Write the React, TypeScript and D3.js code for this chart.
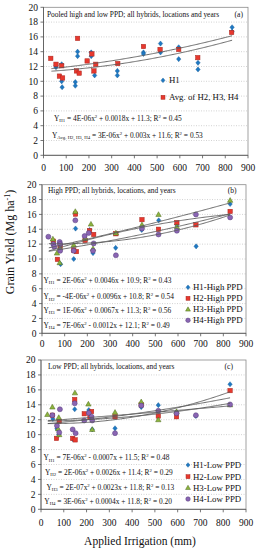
import React from 'react';
import * as d3 from 'd3';

const FONT = "'Liberation Serif','Times New Roman',Times,serif";

type Pt = [number, number];

const yTicks = [0, 2, 4, 6, 8, 10, 12, 14, 16, 18, 20];
const xTicks = [0, 100, 200, 300, 400, 500, 600, 700, 800, 900];

// Panel (a): pooled
const aH1: Pt[] = [[55, 11.9], [55, 12.1], [80, 12.3], [80, 10.0], [82, 9.2], [140, 9.9], [140, 9.4], [150, 14.0], [150, 13.4], [210, 13.9], [210, 13.4], [225, 10.8], [325, 11.4], [325, 10.8], [440, 13.9], [440, 13.7], [515, 15.1], [515, 13.9], [595, 14.6], [595, 13.0], [680, 12.5], [680, 11.6], [830, 17.3], [830, 16.7]];
const aAvg: Pt[] = [[32, 13.1], [55, 12.3], [80, 12.1], [70, 10.7], [84, 10.45], [145, 11.4], [150, 15.8], [157, 11.1], [192, 12.75], [213, 13.7], [222, 11.4], [230, 12.3], [327, 12.4], [440, 14.7], [513, 14.3], [595, 14.3], [679, 13.2], [828, 16.6]];

// Panel (b): high PPD
const bH1: Pt[] = [[52, 11.9], [78, 12.2], [82, 9.3], [140, 10.0], [148, 14.1], [210, 13.9], [225, 10.8], [325, 11.5], [440, 13.9], [515, 15.2], [595, 14.6], [680, 11.7], [830, 17.4]];
const bH2: Pt[] = [[50, 12.4], [68, 9.95], [80, 11.7], [140, 11.2], [148, 16.05], [152, 11.0], [190, 12.5], [210, 13.8], [228, 13.3], [326, 13.4], [441, 15.3], [514, 14.0], [595, 14.9], [679, 14.6], [830, 16.4]];
const bH3: Pt[] = [[48, 12.7], [66, 10.8], [78, 9.5], [80, 11.5], [140, 11.9], [147, 16.4], [191, 12.8], [216, 14.7], [225, 11.4], [326, 13.5], [441, 14.6], [514, 16.0], [595, 14.35], [830, 17.9]];
const bH4: Pt[] = [[28, 13.0], [50, 12.0], [54, 11.65], [78, 12.3], [80, 12.0], [80, 11.1], [140, 11.1], [147, 15.2], [188, 13.1], [206, 13.5], [228, 12.1], [225, 11.1], [326, 10.5], [441, 14.1], [514, 13.3], [595, 13.8], [679, 16.0], [830, 15.6]];

// Panel (c): low PPD
const cH1: Pt[] = [[52, 12.1], [70, 10.8], [78, 10.0], [140, 9.4], [148, 13.4], [210, 13.3], [225, 10.7], [325, 10.85], [440, 13.7], [515, 13.95], [595, 13.0], [680, 12.5], [830, 16.75]];
const cH2: Pt[] = [[50, 12.6], [68, 9.5], [80, 11.8], [139, 9.5], [148, 14.7], [150, 9.3], [190, 12.8], [222, 13.1], [215, 12.3], [325, 12.4], [440, 14.0], [515, 12.5], [595, 12.4], [830, 15.9]];
const cH3: Pt[] = [[28, 12.7], [50, 13.7], [78, 12.3], [75, 10.8], [80, 10.0], [149, 15.6], [208, 14.1], [225, 10.7], [325, 13.0], [440, 14.4], [515, 12.0], [595, 13.1], [830, 14.0]];
const cH4: Pt[] = [[50, 12.6], [70, 11.2], [83, 13.4], [80, 10.3], [139, 10.7], [148, 14.2], [152, 10.2], [190, 11.9], [210, 12.9], [222, 12.4], [225, 11.9], [325, 10.2], [440, 13.9], [515, 13.2], [595, 12.85], [680, 12.6], [830, 14.05]];

// Quadratic trend coefficients [a, b, c] for y = a x^2 + b x + c (printed in the chart)
const aTrends = [[4e-6, 0.0018, 11.3], [3e-6, 0.003, 11.6]];
const bTrends = [[2e-6, 0.0046, 10.9], [-4e-6, 0.0096, 10.8], [1e-6, 0.0067, 11.3], [7e-6, -0.0012, 12.1]];
const cTrends = [[7e-6, -0.0007, 11.5], [2e-6, 0.0026, 11.4], [2e-7, 0.0023, 11.8], [3e-6, 0.0004, 11.8]];

// Text
type Seg = [string, 'n' | 'sub' | 'sup'];
const aEqs: Seg[][] = [
  [['Y', 'n'], ['H1', 'sub'], [' = 4E-06x', 'n'], ['2', 'sup'], [' + 0.0018x + 11.3; R', 'n'], ['2', 'sup'], [' = 0.45', 'n']],
  [['Y', 'n'], ['Avg. H2, H3, H4', 'sub'], [' = 3E-06x', 'n'], ['2', 'sup'], [' + 0.003x + 11.6; R', 'n'], ['2', 'sup'], [' = 0.53', 'n']],
];
const bEqs: Seg[][] = [
  [['Y', 'n'], ['H1', 'sub'], [' = 2E-06x', 'n'], ['2', 'sup'], [' + 0.0046x + 10.9; R', 'n'], ['2', 'sup'], [' = 0.43', 'n']],
  [['Y', 'n'], ['H2', 'sub'], [' = -4E-06x', 'n'], ['2', 'sup'], [' + 0.0096x + 10.8; R', 'n'], ['2', 'sup'], [' = 0.54', 'n']],
  [['Y', 'n'], ['H3', 'sub'], [' = 1E-06x', 'n'], ['2', 'sup'], [' + 0.0067x + 11.3; R', 'n'], ['2', 'sup'], [' = 0.56', 'n']],
  [['Y', 'n'], ['H4', 'sub'], [' = 7E-06x', 'n'], ['2', 'sup'], [' - 0.0012x + 12.1; R', 'n'], ['2', 'sup'], [' = 0.49', 'n']],
];
const cEqs: Seg[][] = [
  [['Y', 'n'], ['H1', 'sub'], [' = 7E-06x', 'n'], ['2', 'sup'], [' - 0.0007x + 11.5; R', 'n'], ['2', 'sup'], [' = 0.48', 'n']],
  [['Y', 'n'], ['H2', 'sub'], [' = 2E-06x', 'n'], ['2', 'sup'], [' + 0.0026x + 11.4; R', 'n'], ['2', 'sup'], [' = 0.29', 'n']],
  [['Y', 'n'], ['H3', 'sub'], [' = 2E-07x', 'n'], ['2', 'sup'], [' + 0.0023x + 11.8; R', 'n'], ['2', 'sup'], [' = 0.13', 'n']],
  [['Y', 'n'], ['H4', 'sub'], [' = 3E-06x', 'n'], ['2', 'sup'], [' + 0.0004x + 11.8; R', 'n'], ['2', 'sup'], [' = 0.20', 'n']],
];
const aNames = ['H1', 'Avg. of H2, H3, H4'];
const bNames = ['H1-High PPD', 'H2-High PPD', 'H3-High PPD', 'H4-High PPD'];
const cNames = ['H1-Low PPD', 'H2-Low PPD', 'H3-Low PPD', 'H4-Low PPD'];

const STYLES: Record<string, { fill: string; stroke: string }> = {
  diamond: { fill: '#1E78C2', stroke: '#1A5E98' },
  square: { fill: '#E8382E', stroke: '#A8271F' },
  triangle: { fill: '#8DB43E', stroke: '#4F6B1E' },
  circle: { fill: '#8A65B3', stroke: '#553D7A' },
};

function Marker({ shape, x, y, s = 1 }: { shape: string; x: number; y: number; s?: number }) {
  const st = STYLES[shape];
  if (shape === 'diamond') {
    const r = 2.6 * s;
    return <path d={`M${x},${y - r}L${x + r * 0.85},${y}L${x},${y + r}L${x - r * 0.85},${y}Z`} fill={st.fill} stroke={st.stroke} strokeWidth={0.4} />;
  }
  if (shape === 'square') {
    const r = 2.2 * s;
    return <rect x={x - r} y={y - r} width={2 * r} height={2 * r} fill={st.fill} stroke={st.stroke} strokeWidth={0.5} />;
  }
  if (shape === 'triangle') {
    const r = 2.7 * s;
    return <path d={`M${x},${y - r}L${x + r},${y + r * 0.75}L${x - r},${y + r * 0.75}Z`} fill={st.fill} stroke={st.stroke} strokeWidth={0.5} />;
  }
  return <circle cx={x} cy={y} r={2.5 * s} fill={st.fill} stroke={st.stroke} strokeWidth={0.5} />;
}

function Rich({ segs, x, y, size }: { segs: Seg[]; x: number; y: number; size: number }) {
  let cur = 0;
  const parts = segs.map(([t, k], i) => {
    const target = k === 'sub' ? size * 0.25 : k === 'sup' ? -size * 0.35 : 0;
    const dy = target - cur;
    cur = target;
    return (
      <tspan key={i} dy={dy} fontSize={k === 'n' ? size : size * 0.65}>{t}</tspan>
    );
  });
  return <text x={x} y={y} fontFamily={FONT} fontSize={size} fill="#111">{parts}</text>;
}

type PanelCfg = {
  x0: number; x1: number; yTop: number; yBot: number;
  series: { shape: string; data: Pt[] }[];
  trends: number[][];
  trendRange: [number, number];
  title: string; titleX: number; titleY: number; tag: string; tagX: number;
  names: string[]; legX: number; legYs: number[]; legSize: number; legTextDx: number;
  eqs: Seg[][]; eqXs: number[]; eqYs: number[];
  tickLabelY: number;
};

function Panel({ p }: { p: PanelCfg }) {
  const x = d3.scaleLinear().domain([0, 900]).range([p.x0, p.x1]);
  const y = d3.scaleLinear().domain([0, 20]).range([p.yBot, p.yTop]);
  const line = d3.line<number>().x((d) => x(d[0])).y((d) => y(d[1])) as any;
  const xs = d3.range(p.trendRange[0], p.trendRange[1] + 0.1, 5);
  return (
    <g>
      {yTicks.filter((t) => t > 0 && t < 20).map((t) => (
        <line key={t} x1={p.x0} x2={p.x1} y1={y(t)} y2={y(t)} stroke="#b5b5b5" strokeWidth={0.6} strokeDasharray="1,1.5" />
      ))}
      <rect x={p.x0} y={p.yTop} width={p.x1 - p.x0} height={p.yBot - p.yTop} fill="none" stroke="#8a8a8a" strokeWidth={0.8} />
      <line x1={p.x0} x2={p.x0} y1={p.yTop} y2={p.yBot} stroke="#555" strokeWidth={0.8} />
      <line x1={p.x0} x2={p.x1} y1={p.yBot} y2={p.yBot} stroke="#555" strokeWidth={0.8} />
      {yTicks.map((t) => (
        <g key={t}>
          <line x1={p.x0 - 3} x2={p.x0} y1={y(t)} y2={y(t)} stroke="#555" strokeWidth={0.8} />
          <text x={p.x0 - 5.5} y={y(t) + 3.3} textAnchor="end" fontFamily={FONT} fontSize={9.5} fill="#111">{t}</text>
        </g>
      ))}
      {xTicks.map((t) => (
        <g key={t}>
          <line x1={x(t)} x2={x(t)} y1={p.yBot} y2={p.yBot + 3} stroke="#555" strokeWidth={0.8} />
          <text x={x(t)} y={p.tickLabelY} textAnchor="middle" fontFamily={FONT} fontSize={9.5} fill="#111">{t}</text>
        </g>
      ))}
      <text x={p.titleX} y={p.titleY} fontFamily={FONT} fontSize={7.4} fill="#111">{p.title}</text>
      <text x={p.tagX} y={p.titleY} textAnchor="end" fontFamily={FONT} fontSize={7.6} fill="#111">{p.tag}</text>
      {p.series.map((s, si) => (
        <g key={si}>
          {s.data.map((d, i) => <Marker key={i} shape={s.shape} x={x(d[0])} y={y(d[1])} />)}
        </g>
      ))}
      {p.trends.map((c, i) => (
        <path key={i} d={line(xs.map((v) => [v, c[0] * v * v + c[1] * v + c[2]]))} fill="none" stroke="#5a5a5a" strokeWidth={0.9} />
      ))}
      {p.names.map((n, i) => (
        <g key={n}>
          <Marker shape={p.series[i].shape} x={p.legX} y={p.legYs[i]} s={0.9} />
          <text x={p.legX + p.legTextDx} y={p.legYs[i] + p.legSize * 0.33} fontFamily={FONT} fontSize={p.legSize} fill="#111">{n}</text>
        </g>
      ))}
      {p.eqs.map((e, i) => <Rich key={i} segs={e} x={p.eqXs[i]} y={p.eqYs[i]} size={7.4} />)}
    </g>
  );
}

const panels: PanelCfg[] = [
  {
    x0: 43.5, x1: 248, yTop: 7.3, yBot: 155.3,
    series: [{ shape: 'diamond', data: aH1 }, { shape: 'square', data: aAvg }],
    trends: aTrends, trendRange: [35, 830],
    title: 'Pooled high and low PPD; all hybrids,  locations and years', titleX: 47, titleY: 16.5, tag: '(a)', tagX: 243,
    names: aNames, legX: 163, legYs: [80.3, 97.3], legSize: 8.8, legTextDx: 6,
    eqs: aEqs, eqXs: [54, 52], eqYs: [120.5, 137.5], tickLabelY: 170.5,
  },
  {
    x0: 42, x1: 246, yTop: 184.7, yBot: 333.3,
    series: [{ shape: 'diamond', data: bH1 }, { shape: 'square', data: bH2 }, { shape: 'triangle', data: bH3 }, { shape: 'circle', data: bH4 }],
    trends: bTrends, trendRange: [30, 830],
    title: 'High PPD; all hybrids,  locations, and years', titleX: 48, titleY: 193, tag: '(b)', tagX: 236.5,
    names: bNames, legX: 188, legYs: [287.3, 298.3, 309.3, 320.3], legSize: 8.8, legTextDx: 5,
    eqs: bEqs, eqXs: [43.5, 43.5, 43.5, 43.5], eqYs: [282.5, 299, 312.5, 327.5], tickLabelY: 346.5,
  },
  {
    x0: 41, x1: 246, yTop: 360, yBot: 509.3,
    series: [{ shape: 'diamond', data: cH1 }, { shape: 'square', data: cH2 }, { shape: 'triangle', data: cH3 }, { shape: 'circle', data: cH4 }],
    trends: cTrends, trendRange: [30, 830],
    title: 'Low PPD; all hybrids,  locations, and years', titleX: 48, titleY: 369, tag: '(c)', tagX: 233,
    names: cNames, legX: 188, legYs: [465, 476.7, 487.7, 499], legSize: 8.8, legTextDx: 5,
    eqs: cEqs, eqXs: [43.5, 45, 46.5, 44.3], eqYs: [460, 474.5, 489.5, 503.5], tickLabelY: 525.5,
  },
];

export default function App() {
  return (
    <svg width={258} height={550} style={{ position: 'absolute', left: 0, top: 0, background: '#fff' }}>
      <rect x={0} y={0} width={258} height={550} fill="#fff" />
      {panels.map((p, i) => <Panel key={i} p={p} />)}
      <text transform="translate(14,242) rotate(-90)" textAnchor="middle" fontFamily={FONT} fontSize={12} fill="#111">
        Grain Yield (Mg ha<tspan dy={-4} fontSize={8}>-1</tspan><tspan dy={4}>)</tspan>
      </text>
      <text x={140} y={545} textAnchor="middle" fontFamily={FONT} fontSize={11.5} fill="#111">Applied Irrigation (mm)</text>
    </svg>
  );
}
